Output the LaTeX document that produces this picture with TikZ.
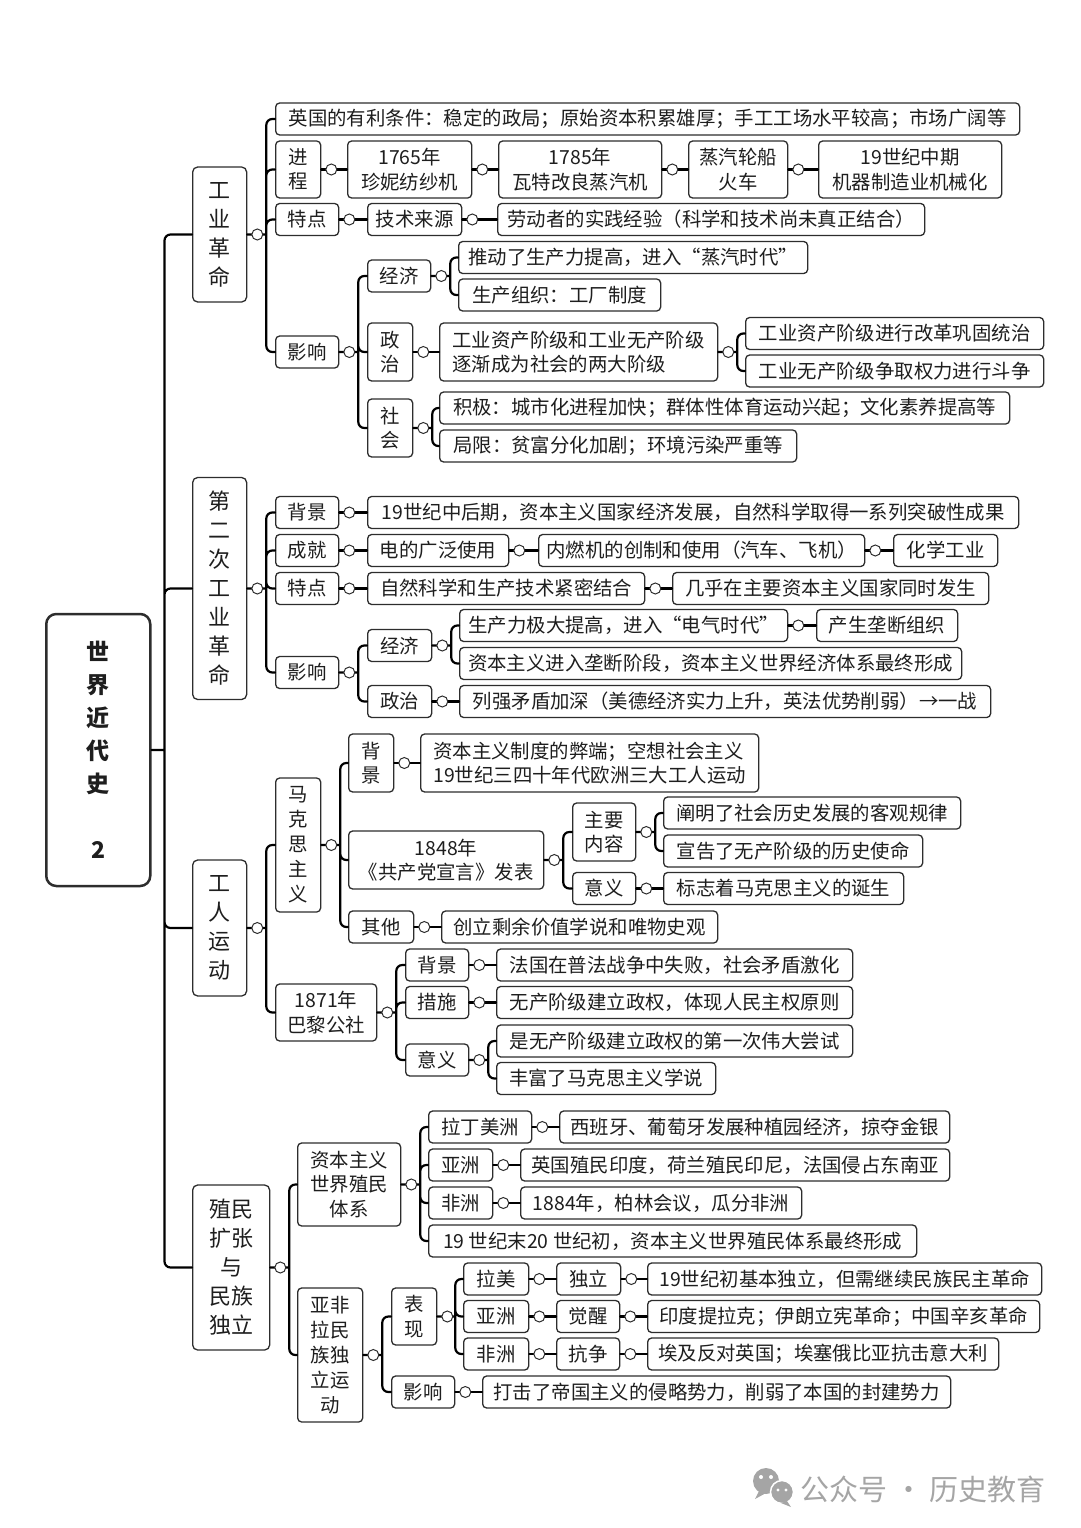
\documentclass[tikz,border=0pt]{standalone}
\usepackage{fontspec}
\setmainfont{Noto Sans CJK SC}
\usepackage{xcolor}
\usepackage{tikz}
\definecolor{mapink}{RGB}{30,30,30}
\definecolor{mapline}{RGB}{45,45,45}
\definecolor{markgray}{RGB}{165,165,165}

\begin{document}
\begin{tikzpicture}[x=1pt, y=-1pt,
    box/.style={draw=mapline, line width=1.3pt, rounded corners=4pt, fill=white, text=mapink, anchor=west, align=center, inner xsep=6pt, inner ysep=4pt, minimum height=32, font=\fontsize{19.4}{24.5}\selectfont},
    tall/.style={box, minimum height=57},
    vbox/.style={box, font=\fontsize{19.4}{25}\selectfont},
    topic/.style={box, rounded corners=5pt, font=\fontsize{22}{29}\selectfont},
    link/.style={line width=2.2pt, rounded corners=6pt, line cap=round},
    dot/.style={circle, draw=mapline, line width=1pt, fill=white, minimum size=11, inner sep=0pt}]
    \useasboundingbox (0,0) rectangle (1080,1528);

    % root
    \node[box, minimum width=104, minimum height=272, line width=2.5pt, rounded corners=10pt, font=\fontsize{23}{33}\selectfont\bfseries] (root) at (45,750) {世\\界\\近\\代\\史\\[33pt]2};

    % 工业革命
    \node[topic, minimum width=54, minimum height=135] (gy) at (192,234.5) {工\\业\\革\\命};
    \node[box, minimum width=744] (gy-yl) at (275,119) {英国的有利条件：稳定的政局；原始资本积累雄厚；手工工场水平较高；市场广阔等};
    \node[tall, minimum width=45] (gy-jc) at (275,169.5) {进\\程};
    \node[tall, minimum width=124] (jc-a) at (347,169.5) {1765年\\珍妮纺纱机};
    \node[tall, minimum width=163] (jc-b) at (498,169.5) {1785年\\瓦特改良蒸汽机};
    \node[tall, minimum width=99] (jc-c) at (688,169.5) {蒸汽轮船\\火车};
    \node[tall, minimum width=183] (jc-d) at (818,169.5) {19世纪中期\\机器制造业机械化};
    \node[box, minimum width=63] (gy-td) at (275,219.5) {特点};
    \node[box, minimum width=94] (td-a) at (367,219.5) {技术来源};
    \node[box, minimum width=427] (td-b) at (497,219.5) {劳动者的实践经验（科学和技术尚未真正结合）};
    \node[box, minimum width=63] (gy-yx) at (275,352) {影响};
    \node[box, minimum width=63] (yx-jj) at (367,276) {经济};
    \node[box, minimum width=349] (jj-a) at (458,257.5) {推动了生产力提高，进入“蒸汽时代”};
    \node[box, minimum width=202] (jj-b) at (458,295) {生产组织：工厂制度};
    \node[tall, minimum width=45, minimum height=58] (yx-zz) at (367,352) {政\\治};
    \node[tall, minimum width=278, minimum height=58, align=left] (zz-a) at (439,352) {工业资产阶级和工业无产阶级\\逐渐成为社会的两大阶级};
    \node[box, minimum width=298] (zz-b) at (745,333.5) {工业资产阶级进行改革巩固统治};
    \node[box, minimum width=298] (zz-c) at (745,371) {工业无产阶级争取权力进行斗争};
    \node[tall, minimum width=45, minimum height=58] (yx-sh) at (367,428) {社\\会};
    \node[box, minimum width=570] (sh-a) at (439,408) {积极：城市化进程加快；群体性体育运动兴起；文化素养提高等};
    \node[box, minimum width=357] (sh-b) at (439,446) {局限：贫富分化加剧；环境污染严重等};

    % 第二次工业革命
    \node[topic, minimum width=54, minimum height=222] (de) at (192,588.5) {第\\二\\次\\工\\业\\革\\命};
    \node[box, minimum width=63] (de-bj) at (275,512.5) {背景};
    \node[box, minimum width=651] (bj-a) at (367,512.5) {19世纪中后期，资本主义国家经济发展，自然科学取得一系列突破性成果};
    \node[box, minimum width=63] (de-cj) at (275,550.5) {成就};
    \node[box, minimum width=141] (cj-a) at (367,550.5) {电的广泛使用};
    \node[box, minimum width=326] (cj-b) at (538,550.5) {内燃机的创制和使用（汽车、飞机）};
    \node[box, minimum width=104] (cj-c) at (893,550.5) {化学工业};
    \node[box, minimum width=63] (de-td) at (275,588.5) {特点};
    \node[box, minimum width=277] (dt-a) at (367,588.5) {自然科学和生产技术紧密结合};
    \node[box, minimum width=316] (dt-b) at (672,588.5) {几乎在主要资本主义国家同时发生};
    \node[box, minimum width=63] (de-yx) at (275,672.5) {影响};
    \node[box, minimum width=64] (dy-jj) at (367,645.5) {经济};
    \node[box, minimum width=328] (dj-a) at (459,625.5) {生产力极大提高，进入“电气时代”};
    \node[box, minimum width=141] (dj-b) at (816,625.5) {产生垄断组织};
    \node[box, minimum width=502] (dj-c) at (459,663.5) {资本主义进入垄断阶段，资本主义世界经济体系最终形成};
    \node[box, minimum width=64] (dy-zz) at (367,701.5) {政治};
    \node[box, minimum width=531] (dz-a) at (459,701.5) {列强矛盾加深（美德经济实力上升，英法优势削弱）→一战};

    % 工人运动
    \node[topic, minimum width=54, minimum height=136] (gr) at (192,928) {工\\人\\运\\动};
    \node[vbox, minimum width=45, minimum height=134] (gr-mk) at (275,845) {马\\克\\思\\主\\义};
    \node[tall, minimum width=45, minimum height=58] (mk-bj) at (348,763) {背\\景};
    \node[tall, minimum width=338, minimum height=58, align=left] (mb-a) at (420,763) {资本主义制度的弊端；空想社会主义\\19世纪三四十年代欧洲三大工人运动};
    \node[tall, minimum width=195, minimum height=58] (mk-xy) at (348,860) {1848年\\《共产党宣言》发表};
    \node[tall, minimum width=63, minimum height=58] (xy-zy) at (572,832) {主要\\内容};
    \node[box, minimum width=297] (zy-a) at (663,813) {阐明了社会历史发展的客观规律};
    \node[box, minimum width=259] (zy-b) at (663,851) {宣告了无产阶级的历史使命};
    \node[box, minimum width=63] (xy-yy) at (572,888.5) {意义};
    \node[box, minimum width=240] (yy-a) at (663,888.5) {标志着马克思主义的诞生};
    \node[box, minimum width=65] (mk-qt) at (348,927) {其他};
    \node[box, minimum width=276] (qt-a) at (441,927) {创立剩余价值学说和唯物史观};
    \node[tall, minimum width=101] (gr-bl) at (275,1012.5) {1871年\\巴黎公社};
    \node[box, minimum width=63] (bl-bj) at (405,965) {背景};
    \node[box, minimum width=356] (bb-a) at (496,965) {法国在普法战争中失败，社会矛盾激化};
    \node[box, minimum width=63] (bl-cs) at (405,1002.5) {措施};
    \node[box, minimum width=356] (bc-a) at (496,1002.5) {无产阶级建立政权，体现人民主权原则};
    \node[box, minimum width=63] (bl-yy) at (405,1060) {意义};
    \node[box, minimum width=356] (by-a) at (496,1041) {是无产阶级建立政权的第一次伟大尝试};
    \node[box, minimum width=219] (by-b) at (496,1078.5) {丰富了马克思主义学说};

    % 殖民扩张与民族独立
    \node[topic, minimum width=77, minimum height=165] (zm) at (192,1267.5) {殖民\\扩张\\与\\民族\\独立};
    \node[tall, minimum width=103, minimum height=83] (zm-tx) at (297,1184.5) {资本主义\\世界殖民\\体系};
    \node[box, minimum width=103] (tx-ld) at (428,1127) {拉丁美洲};
    \node[box, minimum width=390] (tl-a) at (559,1127) {西班牙、葡萄牙发展种植园经济，掠夺金银};
    \node[box, minimum width=64] (tx-yz) at (428,1165) {亚洲};
    \node[box, minimum width=429] (ty-a) at (520,1165) {英国殖民印度，荷兰殖民印尼，法国侵占东南亚};
    \node[box, minimum width=64] (tx-fz) at (428,1203) {非洲};
    \node[box, minimum width=281] (tf-a) at (520,1203) {1884年，柏林会议，瓜分非洲};
    \node[box, minimum width=488] (tx-zx) at (428,1241) {19 世纪末20 世纪初，资本主义世界殖民体系最终形成};
    \node[vbox, minimum width=65, minimum height=134] (zm-dl) at (297,1355) {亚非\\拉民\\族独\\立运\\动};
    \node[tall, minimum width=45] (dl-bx) at (391,1316.5) {表\\现};
    \node[box, minimum width=65] (bx-lm) at (463,1279) {拉美};
    \node[box, minimum width=64] (lm-a) at (556,1279) {独立};
    \node[box, minimum width=394] (lm-b) at (647,1279) {19世纪初基本独立，但需继续民族民主革命};
    \node[box, minimum width=65] (bx-yz) at (463,1316.5) {亚洲};
    \node[box, minimum width=63] (yz-a) at (556,1316.5) {觉醒};
    \node[box, minimum width=392] (yz-b) at (647,1316.5) {印度提拉克；伊朗立宪革命；中国辛亥革命};
    \node[box, minimum width=65] (bx-fz) at (463,1354) {非洲};
    \node[box, minimum width=63] (fz-a) at (556,1354) {抗争};
    \node[box, minimum width=351] (fz-b) at (647,1354) {埃及反对英国；埃塞俄比亚抗击意大利};
    \node[box, minimum width=63] (dl-yx) at (391,1392) {影响};
    \node[box, minimum width=468] (dy-a) at (482,1392) {打击了帝国主义的侵略势力，削弱了本国的封建势力};

    % connectors
    \draw[link] (root.east) -- ++(13,0)
        (gy.west) -| ([xshift=13]root.east) (de.west) -| ([xshift=13]root.east)
        (gr.west) -| ([xshift=13]root.east) (zm.west) -| ([xshift=13]root.east);

    \draw[link] (gy.east) -- ++(19,0)
        (gy-yl.west) -| ([xshift=19]gy.east) (gy-jc.west) -| ([xshift=19]gy.east)
        (gy-td.west) -| ([xshift=19]gy.east) (gy-yx.west) -| ([xshift=19]gy.east);
    \draw[link] (gy-jc) -- (jc-a) -- (jc-b) -- (jc-c) -- (jc-d);
    \draw[link] (gy-td) -- (td-a) -- (td-b);
    \draw[link] (gy-yx.east) -- ++(19,0)
        (yx-jj.west) -| ([xshift=19]gy-yx.east) (yx-zz.west) -| ([xshift=19]gy-yx.east)
        (yx-sh.west) -| ([xshift=19]gy-yx.east);
    \draw[link] (yx-jj.east) -- ++(19,0)
        (jj-a.west) -| ([xshift=19]yx-jj.east) (jj-b.west) -| ([xshift=19]yx-jj.east);
    \draw[link] (yx-zz) -- (zz-a);
    \draw[link] (zz-a.east) -- ++(19,0)
        (zz-b.west) -| ([xshift=19]zz-a.east) (zz-c.west) -| ([xshift=19]zz-a.east);
    \draw[link] (yx-sh.east) -- ++(19,0)
        (sh-a.west) -| ([xshift=19]yx-sh.east) (sh-b.west) -| ([xshift=19]yx-sh.east);

    \draw[link] (de.east) -- ++(19,0)
        (de-bj.west) -| ([xshift=19]de.east) (de-cj.west) -| ([xshift=19]de.east)
        (de-td.west) -| ([xshift=19]de.east) (de-yx.west) -| ([xshift=19]de.east);
    \draw[link] (de-bj) -- (bj-a);
    \draw[link] (de-cj) -- (cj-a) -- (cj-b) -- (cj-c);
    \draw[link] (de-td) -- (dt-a) -- (dt-b);
    \draw[link] (de-yx.east) -- ++(19,0)
        (dy-jj.west) -| ([xshift=19]de-yx.east) (dy-zz.west) -| ([xshift=19]de-yx.east);
    \draw[link] (dy-jj.east) -- ++(19,0)
        (dj-a.west) -| ([xshift=19]dy-jj.east) (dj-c.west) -| ([xshift=19]dy-jj.east);
    \draw[link] (dj-a) -- (dj-b);
    \draw[link] (dy-zz) -- (dz-a);

    \draw[link] (gr.east) -- ++(19,0)
        (gr-mk.west) -| ([xshift=19]gr.east) (gr-bl.west) -| ([xshift=19]gr.east);
    \draw[link] (gr-mk.east) -- ++(19,0)
        (mk-bj.west) -| ([xshift=19]gr-mk.east) (mk-xy.west) -| ([xshift=19]gr-mk.east)
        (mk-qt.west) -| ([xshift=19]gr-mk.east);
    \draw[link] (mk-bj) -- (mb-a);
    \draw[link] (mk-xy.east) -- ++(19,0)
        (xy-zy.west) -| ([xshift=19]mk-xy.east) (xy-yy.west) -| ([xshift=19]mk-xy.east);
    \draw[link] (xy-zy.east) -- ++(19,0)
        (zy-a.west) -| ([xshift=19]xy-zy.east) (zy-b.west) -| ([xshift=19]xy-zy.east);
    \draw[link] (xy-yy) -- (yy-a);
    \draw[link] (mk-qt) -- (qt-a);
    \draw[link] (gr-bl.east) -- ++(19,0)
        (bl-bj.west) -| ([xshift=19]gr-bl.east) (bl-cs.west) -| ([xshift=19]gr-bl.east)
        (bl-yy.west) -| ([xshift=19]gr-bl.east);
    \draw[link] (bl-bj) -- (bb-a);
    \draw[link] (bl-cs) -- (bc-a);
    \draw[link] (bl-yy.east) -- ++(19,0)
        (by-a.west) -| ([xshift=19]bl-yy.east) (by-b.west) -| ([xshift=19]bl-yy.east);

    \draw[link] (zm.east) -- ++(19,0)
        (zm-tx.west) -| ([xshift=19]zm.east) (zm-dl.west) -| ([xshift=19]zm.east);
    \draw[link] (zm-tx.east) -- ++(19,0)
        (tx-ld.west) -| ([xshift=19]zm-tx.east) (tx-yz.west) -| ([xshift=19]zm-tx.east)
        (tx-fz.west) -| ([xshift=19]zm-tx.east) (tx-zx.west) -| ([xshift=19]zm-tx.east);
    \draw[link] (tx-ld) -- (tl-a);
    \draw[link] (tx-yz) -- (ty-a);
    \draw[link] (tx-fz) -- (tf-a);
    \draw[link] (zm-dl.east) -- ++(19,0)
        (dl-bx.west) -| ([xshift=19]zm-dl.east) (dl-yx.west) -| ([xshift=19]zm-dl.east);
    \draw[link] (dl-bx.east) -- ++(18,0)
        (bx-lm.west) -| ([xshift=18]dl-bx.east) (bx-yz.west) -| ([xshift=18]dl-bx.east)
        (bx-fz.west) -| ([xshift=18]dl-bx.east);
    \draw[link] (bx-lm) -- (lm-a) -- (lm-b);
    \draw[link] (bx-yz) -- (yz-a) -- (yz-b);
    \draw[link] (bx-fz) -- (fz-a) -- (fz-b);
    \draw[link] (dl-yx) -- (dy-a);

    % little rings on the branch points
    \foreach \p in {gy, gy-jc, jc-a, jc-b, jc-c, gy-td, td-a, gy-yx, yx-jj, yx-zz, zz-a, yx-sh,
                    de, de-bj, de-cj, cj-a, cj-b, de-td, dt-a, de-yx, dy-jj, dj-a, dy-zz,
                    gr, gr-mk, mk-bj, mk-xy, xy-zy, xy-yy, mk-qt, gr-bl, bl-bj, bl-cs, bl-yy,
                    zm, zm-tx, tx-ld, tx-yz, tx-fz, zm-dl, dl-bx, bx-lm, lm-a, bx-yz, yz-a, bx-fz, fz-a, dl-yx}
        \node[dot] (\p-o) at ([xshift=10]\p.east) {};

    % watermark
    \fill[markgray] (766,1481) circle (13pt);
    \fill[markgray] (759,1491) -- (755,1499) -- (766,1493) -- cycle;
    \filldraw[fill=markgray, draw=white, line width=1.5pt] (782,1492) circle (11.5pt);
    \fill[markgray] (787,1501) -- (791,1507) -- (781,1503) -- cycle;
    \fill[white] (761,1477) circle (2pt) (771,1477) circle (2pt) (778,1490) circle (1.6pt) (786,1490) circle (1.6pt);
    \node[text=markgray, anchor=west, font=\fontsize{29}{29}\selectfont] (wm) at (797,1489) {公众号 · 历史教育};
\end{tikzpicture}
\end{document}
